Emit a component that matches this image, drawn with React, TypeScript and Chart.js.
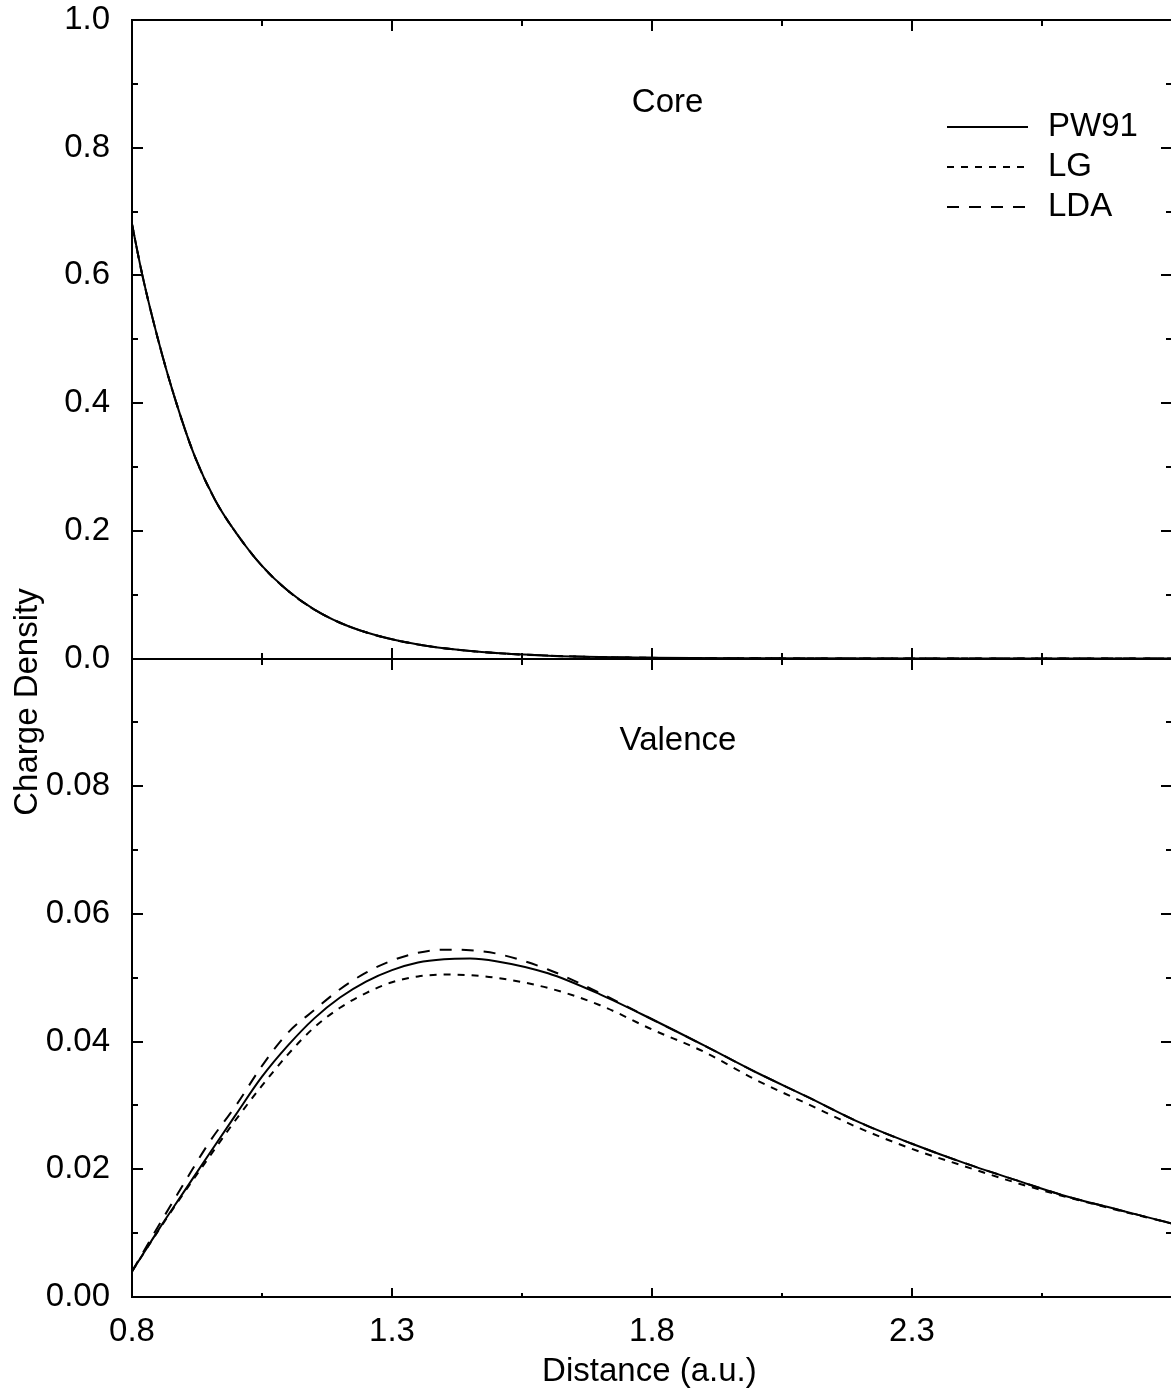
import React, { useEffect, useRef } from "react";
import { Chart, registerables } from "chart.js";

Chart.register(...registerables);

// ---------- data ----------
const coreX = [0.8, 0.82, 0.85, 0.88, 0.92, 0.96, 1.0, 1.05, 1.1, 1.15, 1.2, 1.25, 1.3, 1.35, 1.4, 1.5, 1.6, 1.7, 1.8, 2.0, 2.4, 2.8];
const corePW91 = [0.68, 0.6, 0.5, 0.414, 0.318, 0.248, 0.197, 0.145, 0.106, 0.077, 0.056, 0.041, 0.03, 0.022, 0.016, 0.0085, 0.0045, 0.0022, 0.001, 0.0003, 0, 0];
const coreLG = [0.68, 0.6, 0.5, 0.414, 0.318, 0.248, 0.197, 0.145, 0.106, 0.077, 0.056, 0.041, 0.03, 0.022, 0.016, 0.0085, 0.0045, 0.0022, 0.001, 0.0003, 0, 0];
const coreLDA = [0.68, 0.6, 0.5, 0.414, 0.318, 0.248, 0.197, 0.145, 0.106, 0.077, 0.056, 0.041, 0.03, 0.022, 0.016, 0.0085, 0.0045, 0.0022, 0.001, 0.0003, 0, 0];

const valX = [0.8, 0.85, 0.9, 0.95, 1.0, 1.05, 1.1, 1.15, 1.2, 1.25, 1.3, 1.35, 1.4, 1.45, 1.5, 1.6, 1.7, 1.8, 1.9, 2.0, 2.1, 2.2, 2.3, 2.4, 2.5, 2.6, 2.7, 2.8];
const valPW91 = [0.004, 0.0104, 0.0165, 0.0226, 0.0286, 0.0345, 0.0394, 0.0436, 0.0469, 0.0494, 0.0512, 0.0524, 0.0529, 0.053, 0.0526, 0.0507, 0.0474, 0.0435, 0.0394, 0.0352, 0.0313, 0.0273, 0.024, 0.021, 0.0183, 0.0157, 0.0136, 0.0115];
const valLG = [0.004, 0.0103, 0.0163, 0.0221, 0.0278, 0.0331, 0.038, 0.0422, 0.0453, 0.0476, 0.0493, 0.0502, 0.0505, 0.0504, 0.05, 0.0484, 0.0457, 0.0419, 0.0384, 0.034, 0.0302, 0.0264, 0.0232, 0.0205, 0.0179, 0.0156, 0.0135, 0.0115];
const valLDA = [0.004, 0.011, 0.0178, 0.0244, 0.03, 0.0362, 0.0414, 0.0449, 0.0482, 0.0508, 0.0527, 0.0539, 0.0544, 0.0543, 0.0538, 0.0513, 0.0476, 0.0435, 0.0394, 0.0352, 0.0313, 0.0273, 0.024, 0.021, 0.0183, 0.0157, 0.0136, 0.0115];

const seriesNames = ["PW91", "LG", "LDA"];
const panelNames = ["Core", "Valence"];

const xMajorTicks = [0.8, 1.3, 1.8, 2.3];
const xMinorTicks = [1.05, 1.55, 2.05, 2.55];
const coreMajorTicks = [0, 0.2, 0.4, 0.6, 0.8, 1.0];
const coreMinorTicks = [0.1, 0.3, 0.5, 0.7, 0.9];
const valMajorTicks = [0, 0.02, 0.04, 0.06, 0.08, 0.1];
const valMinorTicks = [0.01, 0.03, 0.05, 0.07, 0.09];

const xTitle = "Distance (a.u.)";
const yTitle = "Charge Density";

const FONT = "'Liberation Sans', Arial, sans-serif";
const FS = 33;
const dashes: number[][] = [[], [7, 7], [12, 10]];

function pts(xs: number[], ys: number[]) {
  return xs.map((x, i) => ({ x, y: ys[i] }));
}

const decorPlugin = {
  id: "decor",
  afterDatasetsDraw(chart: any) {
    const ctx = chart.ctx as CanvasRenderingContext2D;
    const { left, right, top, bottom } = chart.chartArea;
    const xs = chart.scales.x;
    const yc = chart.scales.yCore;
    const yv = chart.scales.yVal;
    const mid = Math.round(yc.getPixelForValue(0));
    ctx.save();
    ctx.strokeStyle = "#000";
    ctx.lineWidth = 2;
    ctx.lineCap = "butt";
    ctx.beginPath();
    ctx.moveTo(left - 1, top);
    ctx.lineTo(right, top);
    ctx.moveTo(left, top);
    ctx.lineTo(left, bottom);
    ctx.moveTo(left - 1, bottom);
    ctx.lineTo(right, bottom);
    ctx.moveTo(right, top);
    ctx.lineTo(right, bottom);
    ctx.moveTo(left, mid);
    ctx.lineTo(right, mid);
    ctx.stroke();

    const MAJ = 11;
    const MIN = 6;
    ctx.beginPath();
    const xt = (v: number, len: number) => {
      const px = Math.round(xs.getPixelForValue(v));
      ctx.moveTo(px, top);
      ctx.lineTo(px, top + len);
      ctx.moveTo(px, mid - len);
      ctx.lineTo(px, mid + len);
      ctx.moveTo(px, bottom);
      ctx.lineTo(px, bottom - len + 2);
    };
    xMajorTicks.forEach((v) => xt(v, MAJ));
    xMinorTicks.forEach((v) => xt(v, MIN));
    const yt = (sc: any, v: number, len: number) => {
      const py = Math.round(sc.getPixelForValue(v));
      ctx.moveTo(left, py);
      ctx.lineTo(left + len, py);
      ctx.moveTo(right, py);
      ctx.lineTo(right - len, py);
    };
    coreMajorTicks.forEach((v) => yt(yc, v, MAJ));
    coreMinorTicks.forEach((v) => yt(yc, v, MIN));
    valMajorTicks.forEach((v) => yt(yv, v, MAJ));
    valMinorTicks.forEach((v) => yt(yv, v, MIN));
    ctx.stroke();

    ctx.fillStyle = "#000";
    ctx.font = `${FS}px ${FONT}`;
    ctx.textAlign = "center";
    ctx.textBaseline = "middle";
    ctx.fillText(panelNames[0], xs.getPixelForValue(1.83), yc.getPixelForValue(0.87));
    ctx.fillText(panelNames[1], xs.getPixelForValue(1.85), yv.getPixelForValue(0.0871));

    const lx0 = right - 225;
    const lx1 = right - 144;
    const ly0 = top + 107;
    const step = 40;
    seriesNames.forEach((name, i) => {
      const ly = ly0 + i * step;
      ctx.beginPath();
      ctx.setLineDash(dashes[i]);
      ctx.lineWidth = 2;
      ctx.moveTo(lx0, ly);
      ctx.lineTo(lx1, ly);
      ctx.stroke();
      ctx.setLineDash([]);
      ctx.textAlign = "left";
      ctx.fillText(name, right - 124, ly);
    });

    ctx.textAlign = "center";
    ctx.fillText(xTitle, xs.getPixelForValue(1.795), bottom + 75);
    ctx.save();
    ctx.translate(28, mid + 43);
    ctx.rotate(-Math.PI / 2);
    ctx.fillText(yTitle, 0, 0);
    ctx.restore();
    ctx.restore();
  },
};

export default function App() {
  const ref = useRef<HTMLCanvasElement | null>(null);
  useEffect(() => {
    if (!ref.current) return;
    const mk = (label: string, xs: number[], ys: number[], axis: string, i: number) => ({
      label,
      data: pts(xs, ys),
      yAxisID: axis,
      borderColor: "#000",
      borderWidth: 2,
      borderDash: dashes[i],
      pointRadius: 0,
      fill: false,
      cubicInterpolationMode: "monotone" as const,
    });
    const tickFont = { family: FONT, size: FS };
    const yFit = (s: any) => {
      s.width = 132;
      s.paddingTop = 0;
      s.paddingBottom = 0;
    };
    const chart = new Chart(ref.current, {
      type: "line",
      data: {
        datasets: [
          mk(seriesNames[0], coreX, corePW91, "yCore", 0),
          mk(seriesNames[1], coreX, coreLG, "yCore", 1),
          mk(seriesNames[2], coreX, coreLDA, "yCore", 2),
          mk(seriesNames[0], valX, valPW91, "yVal", 0),
          mk(seriesNames[1], valX, valLG, "yVal", 1),
          mk(seriesNames[2], valX, valLDA, "yVal", 2),
        ],
      },
      options: {
        responsive: false,
        animation: false,
        devicePixelRatio: 1,
        layout: { padding: { left: 0, top: 20, right: 8, bottom: 0 } },
        plugins: { legend: { display: false }, tooltip: { enabled: false }, title: { display: false } },
        scales: {
          x: {
            type: "linear",
            min: 0.8,
            max: 2.8,
            grid: { display: false, drawTicks: false },
            border: { display: false },
            afterBuildTicks: (s: any) => {
              s.ticks = xMajorTicks.map((v) => ({ value: v }));
            },
            afterFit: (s: any) => {
              s.height = 100;
              s.paddingLeft = 0;
              s.paddingRight = 0;
            },
            ticks: {
              color: "#000",
              font: tickFont,
              padding: 15,
              maxRotation: 0,
              callback: (v: any) => Number(v).toFixed(1),
            },
          },
          yVal: {
            type: "linear",
            position: "left",
            stack: "panels",
            stackWeight: 1,
            min: 0,
            max: 0.1,
            grid: { display: false, drawTicks: false },
            border: { display: false },
            afterBuildTicks: (s: any) => {
              s.ticks = valMajorTicks.map((v) => ({ value: v }));
            },
            afterFit: yFit,
            ticks: {
              color: "#000",
              font: tickFont,
              padding: 22,
              callback: (v: any) => (Math.abs(Number(v) - 0.1) < 1e-9 ? "" : Number(v).toFixed(2)),
            },
          },
          yCore: {
            type: "linear",
            position: "left",
            stack: "panels",
            stackWeight: 1,
            min: 0,
            max: 1,
            grid: { display: false, drawTicks: false },
            border: { display: false },
            afterBuildTicks: (s: any) => {
              s.ticks = coreMajorTicks.map((v) => ({ value: v }));
            },
            afterFit: yFit,
            ticks: {
              color: "#000",
              font: tickFont,
              padding: 22,
              callback: (v: any) => Number(v).toFixed(1),
            },
          },
        },
      },
      plugins: [decorPlugin],
    } as any);
    return () => chart.destroy();
  }, []);
  return (
    <div
      style={{
        position: "absolute",
        left: 0,
        top: 0,
        width: 1171,
        height: 1397,
        overflow: "hidden",
        background: "#fff",
      }}
    >
      <canvas ref={ref} width={1180} height={1397} style={{ display: "block" }} />
    </div>
  );
}
